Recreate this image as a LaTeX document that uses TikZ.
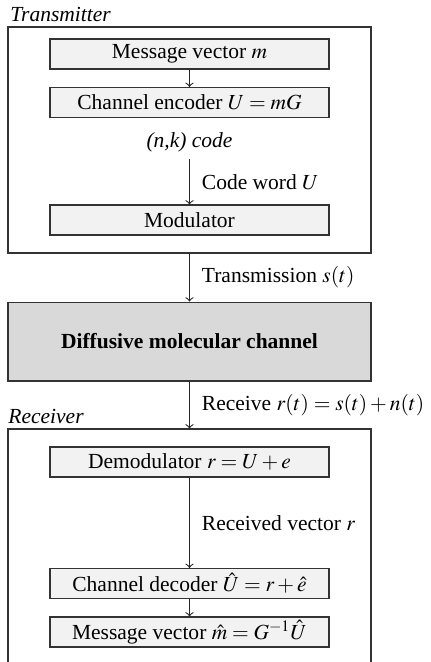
\documentclass[tikz,border=0pt]{standalone}
\usepackage{mathptmx}
\usepackage[no-math]{fontspec}
\setmainfont{Liberation Serif}
\begin{document}
\begin{tikzpicture}[x=0.465pt,y=-0.465pt,
  blk/.style={draw=black!80, fill=black!5, line width=0.5pt, minimum width=129.7pt, minimum height=13.95pt, inner sep=0pt},
  frame/.style={draw=black!80, line width=0.5pt, minimum width=168.8pt, inner sep=0pt},
  chan/.style={draw=black!80, fill=black!15, line width=0.5pt, minimum width=168.8pt, minimum height=36.7pt, inner sep=0pt, font=\bfseries},
  lbl/.style={right, xshift=2.2pt},
  ttl/.style={anchor=base west, inner sep=0pt, font=\itshape},
  arr/.style={->, line width=0.5pt, draw=black!85}]
\useasboundingbox (0,0) rectangle (431,662);
\clip (0,0) rectangle (431,662);
% frames
\node[frame, minimum height=105.1pt] (tx) at (189.5,140) {};
\node[frame, minimum height=126pt] (rx) at (189.5,564.5) {};
\node[ttl] (txl) at (10,21) {Transmitter};
\node[ttl] (rxl) at (8,423) {Receiver};
% transmitter
\node[blk] (msg) at (189.5,54) {Message vector $m$};
\node[blk] (enc) at (189.5,102.5) {Channel encoder $U=mG$};
\node[font=\itshape] (nk) at (189.5,142) {(n,k) code};
\node[blk] (mod) at (189.5,220) {Modulator};
% channel
\node[chan] (ch) at (189.5,341.5) {Diffusive molecular channel};
% receiver
\node[blk] (dem) at (189.5,462) {Demodulator $r=U+e$};
\node[blk] (dec) at (189.5,583.5) {Channel decoder $\hat{U}=r+\hat{e}$};
\node[blk] (est) at (189.5,632) {Message vector $\hat{m}=G^{-1}\hat{U}$};
% connectors
\draw[arr] (msg) -- (enc);
\draw[arr] (nk) -- node[lbl] {Code word $U$} (mod);
\draw[arr] (tx) -- node[lbl] {Transmission $s(t)$} (ch);
\draw[arr] (ch) -- node[lbl] {Receive $r(t)=s(t)+n(t)$} (rx);
\draw[arr] (dem) -- node[lbl] {Received vector $r$} (dec);
\draw[arr] (dec) -- (est);
\end{tikzpicture}
\end{document}
